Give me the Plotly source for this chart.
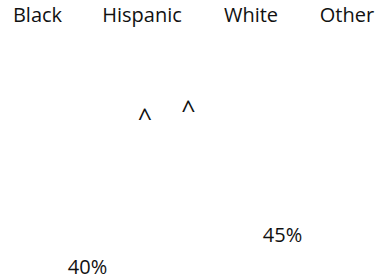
import plotly.graph_objects as go

# Data
categories = ["Black", "Hispanic", "White", "Other"]
value_labels = ["40%", "45%"]
significance_marks = ["^", "^"]

# Layout positions (pixel space of the 377x280 window)
cat_x = [37.5, 142, 251, 347]
cat_y = [17, 17, 17, 17]
val_x = [87.5, 282.5]
val_y = [269, 237]
sig_x = [145, 188.5]
sig_y = [121, 113]

FONT = dict(family="Open Sans", size=20, color="#111111")
SIG_FONT = dict(family="Open Sans", size=25, color="#111111")

fig = go.Figure()
for xs, ys, txt, fnt in [(cat_x, cat_y, categories, FONT),
                         (val_x, val_y, value_labels, FONT),
                         (sig_x, sig_y, significance_marks, SIG_FONT)]:
    fig.add_trace(go.Scatter(x=xs, y=ys, text=txt, mode="text",
                             textposition="middle center", textfont=fnt,
                             cliponaxis=False, hoverinfo="skip", showlegend=False))

fig.update_layout(
    width=377, height=280,
    margin=dict(l=0, r=0, t=0, b=0),
    paper_bgcolor="white", plot_bgcolor="white",
    xaxis=dict(range=[0, 377], visible=False, fixedrange=True),
    yaxis=dict(range=[280, 0], visible=False, fixedrange=True),
)

fig.write_html(
    "out.html",
    config={"displayModeBar": False},
    post_script="document.body.style.margin='0';document.body.style.overflow='hidden';",
)
